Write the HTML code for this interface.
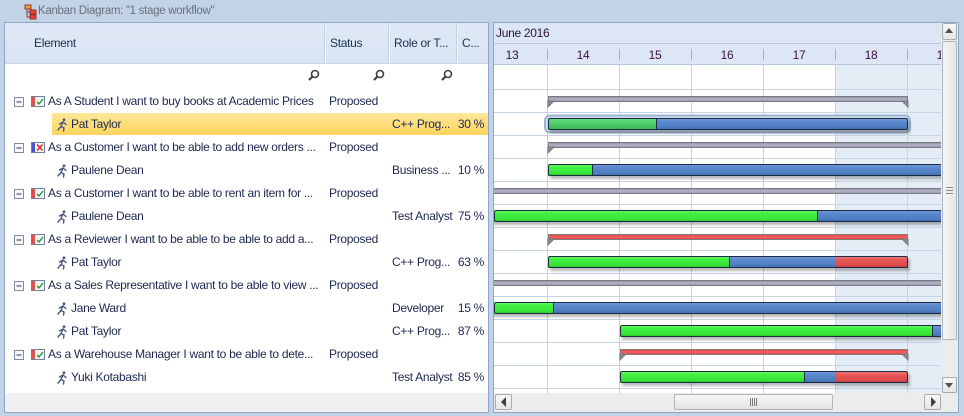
<!DOCTYPE html>
<html><head><meta charset="utf-8">
<style>
*{margin:0;padding:0;box-sizing:border-box}
html,body{width:964px;height:416px;overflow:hidden;background:#c2d3e8;font-family:"Liberation Sans",Arial,sans-serif;font-size:12px;letter-spacing:-0.3px;color:#1e2850}
.a{position:absolute;white-space:nowrap}
.t{position:absolute;white-space:nowrap;line-height:23px;height:23px}
</style></head><body>
<!-- title -->
<svg class="a" style="left:22px;top:4px" width="16" height="16" viewBox="0 0 16 16">
<rect x="3" y="1" width="6" height="4" fill="#e8a040" stroke="#a03020" stroke-width="1"/>
<rect x="8" y="6" width="6" height="4" fill="#e84040" stroke="#a03020" stroke-width="1"/>
<rect x="8" y="11" width="6" height="4" fill="#e84040" stroke="#a03020" stroke-width="1"/>
<path d="M5 5V13H8M5 8H8" stroke="#704040" fill="none"/>
</svg>
<div class="a" style="left:38px;top:3px;line-height:16px;color:#6b6f78;font-size:11.5px">Kanban Diagram: "1 stage workflow"</div>

<!-- left panel -->
<div class="a" style="left:4px;top:22px;width:485px;height:391px;border:1px solid #8ea6c6;background:#fff"></div>
<div class="a" style="left:5px;top:23px;width:483px;height:41px;background:linear-gradient(#dfe9f6,#d9e4f2);border-bottom:1px solid #c6d4e6"></div>
<div class="a" style="left:324px;top:23px;width:2px;height:41px;background:#c2d2e6;border-right:1px solid #eef4fb"></div>
<div class="a" style="left:388px;top:23px;width:2px;height:41px;background:#c2d2e6;border-right:1px solid #eef4fb"></div>
<div class="a" style="left:456px;top:23px;width:2px;height:41px;background:#c2d2e6;border-right:1px solid #eef4fb"></div>
<div class="t" style="left:34px;top:32px;color:#1e3050">Element</div>
<div class="t" style="left:330px;top:32px;color:#1e3050">Status</div>
<div class="t" style="left:394px;top:32px;color:#1e3050">Role or T...</div>
<div class="t" style="left:462px;top:32px;color:#1e3050">C...</div>
<div class="a" style="left:5px;top:393px;width:483px;height:19px;background:#f0f0f0"></div>

<!-- magnifiers -->
<svg class="a" style="left:300px;top:66px" width="160" height="20">
<g stroke="#404040" fill="none" stroke-width="1.6">
<circle cx="15" cy="8" r="3.5"/><path d="M12.5 10.5L9 14" stroke-width="2.2"/>
<circle cx="80" cy="8" r="3.5"/><path d="M77.5 10.5L74 14" stroke-width="2.2"/>
<circle cx="148" cy="8" r="3.5"/><path d="M145.5 10.5L142 14" stroke-width="2.2"/>
</g></svg>

<!-- selection highlight -->
<div class="a" style="left:52px;top:113px;width:436px;height:22px;background:linear-gradient(#fee79a,#fdd45c)"></div>

<!-- tree icons -->
<svg class="a" style="left:0;top:0" width="70" height="400">
<defs>
<g id="mb"><rect x="0.5" y="0.5" width="9" height="9" fill="#f6f8fb" stroke="#7d8ca6"/><path d="M2.5 5H7.5" stroke="#2a3550"/></g>
<g id="rq"><rect x="0.5" y="0.5" width="13" height="10" fill="#f4f6fa" stroke="#70809a"/><rect x="1" y="1" width="3" height="9" fill="#e05050"/><path d="M6 6L8 8L12 3" stroke="#1a9a2a" stroke-width="1.4" fill="none"/></g>
<g id="rx"><rect x="0.5" y="0.5" width="13" height="10" fill="#f4f6fa" stroke="#70809a"/><rect x="1" y="1" width="3" height="9" fill="#5050d0"/><path d="M6 2.5L11.5 8.5M11.5 2.5L6 8.5" stroke="#d02020" stroke-width="1.3" fill="none"/></g>
<g id="rn" stroke="#4a5680" stroke-width="1.4" fill="none" stroke-linecap="round"><circle cx="7" cy="1.8" r="1.4" fill="#4a5680" stroke="none"/><path d="M6 4L4 8.5L1 12M4 8.5L7 10L6.5 13M6 4L2.5 6M6 4L9 6.5"/></g>
</defs>
<use href="#mb" x="14" y="97"/><use href="#rq" x="31" y="96"/>
<use href="#rn" x="57" y="118"/>
<use href="#mb" x="14" y="143"/><use href="#rx" x="31" y="142"/>
<use href="#rn" x="57" y="164"/>
<use href="#mb" x="14" y="189"/><use href="#rq" x="31" y="188"/>
<use href="#rn" x="57" y="210"/>
<use href="#mb" x="14" y="235"/><use href="#rq" x="31" y="234"/>
<use href="#rn" x="57" y="256"/>
<use href="#mb" x="14" y="281"/><use href="#rq" x="31" y="280"/>
<use href="#rn" x="57" y="302"/>
<use href="#rn" x="57" y="325"/>
<use href="#mb" x="14" y="350"/><use href="#rq" x="31" y="349"/>
<use href="#rn" x="57" y="371"/>
</svg>

<!-- tree text -->
<div class="t" style="left:48px;top:90px">As A Student I want to buy books at Academic Prices</div>
<div class="t" style="left:71px;top:113px">Pat Taylor</div>
<div class="t" style="left:48px;top:136px">As a Customer I want to be able to add new orders ...</div>
<div class="t" style="left:71px;top:159px">Paulene Dean</div>
<div class="t" style="left:48px;top:182px">As a Customer I want to be able to rent an item for ...</div>
<div class="t" style="left:71px;top:205px">Paulene Dean</div>
<div class="t" style="left:48px;top:228px">As a Reviewer I want to be able to be able to add a...</div>
<div class="t" style="left:71px;top:251px">Pat Taylor</div>
<div class="t" style="left:48px;top:274px">As a Sales Representative I want to be able to view ...</div>
<div class="t" style="left:71px;top:297px">Jane Ward</div>
<div class="t" style="left:71px;top:320px">Pat Taylor</div>
<div class="t" style="left:48px;top:343px">As a Warehouse Manager I want to be able to dete...</div>
<div class="t" style="left:71px;top:366px">Yuki Kotabashi</div>

<div class="t" style="left:329px;top:90px">Proposed</div>
<div class="t" style="left:329px;top:136px">Proposed</div>
<div class="t" style="left:329px;top:182px">Proposed</div>
<div class="t" style="left:329px;top:228px">Proposed</div>
<div class="t" style="left:329px;top:274px">Proposed</div>
<div class="t" style="left:329px;top:343px">Proposed</div>

<div class="t" style="left:392px;top:113px">C++ Prog...</div>
<div class="t" style="left:392px;top:159px">Business ...</div>
<div class="t" style="left:392px;top:205px">Test Analyst</div>
<div class="t" style="left:392px;top:251px">C++ Prog...</div>
<div class="t" style="left:392px;top:297px">Developer</div>
<div class="t" style="left:392px;top:320px">C++ Prog...</div>
<div class="t" style="left:392px;top:366px">Test Analyst</div>

<div class="t" style="right:480px;top:113px">30 %</div>
<div class="t" style="right:480px;top:159px">10 %</div>
<div class="t" style="right:480px;top:205px">75 %</div>
<div class="t" style="right:480px;top:251px">63 %</div>
<div class="t" style="right:480px;top:297px">15 %</div>
<div class="t" style="right:480px;top:320px">87 %</div>
<div class="t" style="right:480px;top:366px">85 %</div>

<!-- right panel -->
<div class="a" style="left:493px;top:22px;width:466px;height:391px;border:1px solid #8ea6c6;background:#fff"></div>
<div class="a" style="left:494px;top:23px;width:447px;height:21px;background:#dce6f4;border-bottom:1px solid #b6c7dc"></div>
<div class="a" style="left:494px;top:44px;width:447px;height:21px;background:#dce6f4;border-bottom:1px solid #b6c7dc"></div>
<div class="t" style="left:496px;top:22px;line-height:22px;color:#2a1238">June 2016</div>
<svg class="a" style="left:494px;top:44px" width="447" height="20">
<g stroke="#a3b2c6"><path d="M53.5 5V16M125.5 5V16M197.5 5V16M269.5 5V16M341.5 5V16M413.5 5V16"/></g>
<g font-family="Liberation Sans, Arial, sans-serif" font-size="12" fill="#3a0e4a" text-anchor="middle">
<text x="18" y="15">13</text><text x="89" y="15">14</text><text x="161" y="15">15</text><text x="233" y="15">16</text><text x="305" y="15">17</text><text x="377" y="15">18</text><text x="449" y="15">19</text>
</g></svg>

<!-- gantt body -->
<svg class="a" style="left:494px;top:65px" width="447" height="328" viewBox="494 65 447 328">
<defs>
<linearGradient id="gG" x1="0" y1="0" x2="0" y2="1"><stop offset="0" stop-color="#74ff74"/><stop offset="0.25" stop-color="#44f244"/><stop offset="0.8" stop-color="#38e238"/><stop offset="1" stop-color="#22b022"/></linearGradient>
<linearGradient id="gB" x1="0" y1="0" x2="0" y2="1"><stop offset="0" stop-color="#76a0dc"/><stop offset="0.3" stop-color="#5c88cc"/><stop offset="0.8" stop-color="#4c7bc0"/><stop offset="1" stop-color="#3a62a4"/></linearGradient>
<linearGradient id="gR" x1="0" y1="0" x2="0" y2="1"><stop offset="0" stop-color="#f48080"/><stop offset="0.3" stop-color="#e85858"/><stop offset="0.8" stop-color="#dc4a4a"/><stop offset="1" stop-color="#b83434"/></linearGradient>
<linearGradient id="gS" x1="0" y1="0" x2="0" y2="1"><stop offset="0" stop-color="#8a8a9c"/><stop offset="0.5" stop-color="#b4b4c8"/><stop offset="1" stop-color="#9898ac"/></linearGradient>
<linearGradient id="gSR" x1="0" y1="0" x2="0" y2="1"><stop offset="0" stop-color="#e04040"/><stop offset="0.5" stop-color="#f06464"/><stop offset="1" stop-color="#d84040"/></linearGradient>
<linearGradient id="gGs" x1="0" y1="0" x2="0" y2="1"><stop offset="0" stop-color="#6ade84"/><stop offset="0.5" stop-color="#4ccc68"/><stop offset="1" stop-color="#38b054"/></linearGradient>
<filter id="sh" x="-5%" y="-50%" width="110%" height="250%"><feDropShadow dx="2" dy="3" stdDeviation="1.3" flood-color="#000" flood-opacity="0.28"/></filter>
</defs>
<rect x="836" y="65" width="105" height="328" fill="#e4ecf6"/>
<g stroke="#c6d3e5" stroke-width="1">
<path d="M547.5 65V393M619.5 65V393M691.5 65V393M763.5 65V393M835.5 65V393M907.5 65V393"/>
<path d="M494 89.5H941M494 112.5H941M494 135.5H941M494 158.5H941M494 181.5H941M494 204.5H941M494 227.5H941M494 250.5H941M494 273.5H941M494 296.5H941M494 319.5H941M494 342.5H941M494 365.5H941M494 388.5H941"/>
</g>

<!-- summary bars -->
<g stroke="#7a7a86" stroke-width="1">
<rect x="548.5" y="96.5" width="359" height="5" fill="url(#gS)"/>
<path d="M548 101V107L554 101Z M908 101V107L902 101Z" fill="#8a8a98" stroke="#7a7a86"/>
<rect x="548.5" y="142.5" width="400" height="5" fill="url(#gS)"/>
<path d="M548 147V153L554 147Z" fill="#8a8a98"/>
<rect x="490.5" y="188.5" width="460" height="5" fill="url(#gS)"/>
<rect x="548.5" y="234.5" width="359" height="5" fill="url(#gSR)" stroke="#8a7a7a"/>
<path d="M548 239V245L554 239Z M908 239V245L902 239Z" fill="#8a8a98"/>
<rect x="490.5" y="280.5" width="460" height="5" fill="url(#gS)"/>
<rect x="620.5" y="349.5" width="287" height="5" fill="url(#gSR)" stroke="#8a7a7a"/>
<path d="M620 354V360L626 354Z M908 354V360L902 354Z" fill="#8a8a98"/>
</g>

<!-- selection glow row 2 -->
<rect x="545" y="115.5" width="365" height="17" rx="5" fill="#d0dcec" stroke="#9fb5d4" stroke-width="2"/>

<!-- sub bars -->
<g filter="url(#sh)">
<!-- r2 -->
<rect x="548" y="118" width="108" height="12" fill="url(#gGs)"/><rect x="656" y="118" width="252" height="12" fill="url(#gB)"/>
<!-- r4 -->
<rect x="548" y="164" width="44" height="12" fill="url(#gG)"/><rect x="592" y="164" width="360" height="12" fill="url(#gB)"/>
<!-- r6 -->
<rect x="490" y="210" width="327" height="12" fill="url(#gG)"/><rect x="817" y="210" width="135" height="12" fill="url(#gB)"/>
<!-- r8 -->
<rect x="548" y="256" width="181" height="12" fill="url(#gG)"/><rect x="729" y="256" width="107" height="12" fill="url(#gB)"/><rect x="836" y="256" width="72" height="12" fill="url(#gR)"/>
<!-- r10 -->
<rect x="490" y="302" width="63" height="12" fill="url(#gG)"/><rect x="553" y="302" width="400" height="12" fill="url(#gB)"/>
<!-- r11 -->
<rect x="620" y="325" width="312" height="12" fill="url(#gG)"/><rect x="932" y="325" width="20" height="12" fill="url(#gB)"/>
<!-- r13 -->
<rect x="620" y="371" width="184" height="12" fill="url(#gG)"/><rect x="804" y="371" width="32" height="12" fill="url(#gB)"/><rect x="836" y="371" width="72" height="12" fill="url(#gR)"/>
</g>
<g fill="none" stroke="#1c2a44" stroke-width="1">
<rect x="548.5" y="118.5" width="359" height="11" rx="2"/><path d="M656.5 118V130"/>
<rect x="548.5" y="164.5" width="420" height="11" rx="2"/><path d="M592.5 164V176"/>
<rect x="494.5" y="210.5" width="470" height="11" rx="2"/><path d="M817.5 210V222"/>
<rect x="548.5" y="256.5" width="359" height="11" rx="2"/><path d="M729.5 256V268"/>
<rect x="494.5" y="302.5" width="470" height="11" rx="2"/><path d="M553.5 302V314"/>
<rect x="620.5" y="325.5" width="340" height="11" rx="2"/><path d="M932.5 325V337"/>
<rect x="620.5" y="371.5" width="287" height="11" rx="2"/><path d="M804.5 371V383"/>
</g>
</svg>

<!-- vertical scrollbar -->
<div class="a" style="left:941px;top:23px;width:17px;height:370px;background:#ececec"></div>
<div class="a" style="left:942px;top:23px;width:15px;height:17px;background:linear-gradient(#f8f8f8,#e6e6e6);border:1px solid #acacac;border-radius:2px"></div>
<div class="a" style="left:945px;top:28px;width:0;height:0;border-left:4.5px solid transparent;border-right:4.5px solid transparent;border-bottom:5px solid #505050"></div>
<div class="a" style="left:942px;top:41px;width:15px;height:299px;background:linear-gradient(90deg,#f4f4f4,#e6e6e6);border:1px solid #b4b4b4;border-radius:2px"></div>
<div class="a" style="left:946px;top:187px;width:7px;height:7px;border-top:1px solid #8a8a8a;border-bottom:1px solid #8a8a8a"></div>
<div class="a" style="left:946px;top:190px;width:7px;height:1px;background:#8a8a8a"></div>
<div class="a" style="left:942px;top:377px;width:15px;height:16px;background:linear-gradient(#f8f8f8,#e6e6e6);border:1px solid #acacac;border-radius:2px"></div>
<div class="a" style="left:945px;top:383px;width:0;height:0;border-left:4.5px solid transparent;border-right:4.5px solid transparent;border-top:5px solid #505050"></div>

<!-- horizontal scrollbar -->
<div class="a" style="left:494px;top:393px;width:464px;height:19px;background:#ececec"></div>
<div class="a" style="left:495px;top:394px;width:17px;height:16px;background:linear-gradient(#f8f8f8,#e6e6e6);border:1px solid #acacac;border-radius:2px"></div>
<div class="a" style="left:501px;top:397px;width:0;height:0;border-top:5px solid transparent;border-bottom:5px solid transparent;border-right:5px solid #404040"></div>
<div class="a" style="left:674px;top:394px;width:159px;height:16px;background:linear-gradient(#f6f6f6,#e4e4e4);border:1px solid #b4b4b4;border-radius:2px"></div>
<div class="a" style="left:750px;top:398px;width:7px;height:8px;border-left:1px solid #7a7a7a;border-right:1px solid #7a7a7a"></div>
<div class="a" style="left:752px;top:398px;width:3px;height:8px;border-left:1px solid #7a7a7a;border-right:1px solid #7a7a7a"></div>
<div class="a" style="left:924px;top:394px;width:17px;height:16px;background:linear-gradient(#f8f8f8,#e6e6e6);border:1px solid #acacac;border-radius:2px"></div>
<div class="a" style="left:931px;top:397px;width:0;height:0;border-top:5px solid transparent;border-bottom:5px solid transparent;border-left:5px solid #404040"></div>
</body></html>
